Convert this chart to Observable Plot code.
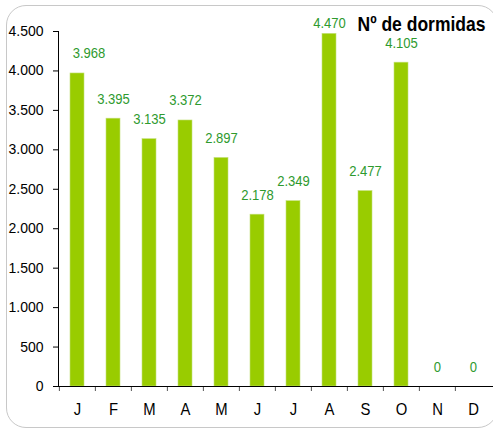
<!DOCTYPE html>
<html>
<head>
<meta charset="utf-8">
<script src="https://cdn.jsdelivr.net/npm/d3@7"></script>
<script src="https://cdn.jsdelivr.net/npm/@observablehq/plot@0.6"></script>
<style>
  html, body { margin: 0; padding: 0; background: #fff; overflow: hidden; }
  #wrap { position: relative; width: 493px; height: 430px; overflow: hidden; }
  #border { position: absolute; left: 6px; top: 5px; width: 492px; height: 423px;
            border: 1px solid #c8c8c8; border-radius: 20px; box-sizing: border-box; pointer-events: none; }
  svg { font-family: "Liberation Sans", Arial, sans-serif; }
</style>
</head>
<body>
<div id="wrap"><div id="border"></div></div>
<script>
const months = ["J","F","M","A","M ","J ","J  ","A ","S","O","N","D"];
const monthLabels = ["J","F","M","A","M","J","J","A","S","O","N","D"];
const values = [3968, 3395, 3135, 3372, 2897, 2178, 2349, 4470, 2477, 4105, 0, 0];
const yTicks = [0, 500, 1000, 1500, 2000, 2500, 3000, 3500, 4000, 4500];
const title = "Nº de dormidas";

const data = months.map((m, i) => ({month: m, label: monthLabels[i], value: values[i]}));
const fmt = d3.formatLocale({decimal: ",", thousands: ".", grouping: [3]}).format(",d");

const W = 493, H = 430, mL = 58, mR = 0;
const bw = (W - mL - mR) / months.length;

const green = "#2e9a2e";

const chart = Plot.plot({
  width: W,
  height: H,
  marginLeft: mL,
  marginRight: mR,
  marginTop: 31,
  marginBottom: 44,
  style: {fontFamily: "Liberation Sans, Arial, sans-serif", fontSize: "14px", color: "#000", background: "transparent"},
  x: {domain: months, paddingInner: 0.6, paddingOuter: 0.3, label: null, axis: null},
  y: {domain: [0, 4500], label: null, axis: null},
  marks: [
    Plot.barY(data, {x: "month", y: "value", fill: "#99cc00", stroke: "#c4e07a", strokeWidth: 0.6}),
    // y axis
    Plot.axisY({ticks: yTicks, tickFormat: fmt, tickSize: 5, tickPadding: 10, stroke: "#000", fontSize: 14, label: null}),
    Plot.frame({anchor: "left", stroke: "#000"}),
    // x axis: tick marks at band boundaries
    Plot.axisX({tickSize: 5, tickFormat: () => "", dx: -bw / 2, stroke: "#555", label: null}),
    Plot.axisX({tickSize: 0, tickPadding: 17, tickFormat: (d, i) => monthLabels[i], fontSize: 16.5, label: null}),
    Plot.ruleY([0], {stroke: "#000", strokeWidth: 1.2}),
    // value labels
    Plot.text(data.filter(d => d.value < 4400 && d.month !== "J"), {x: "month", y: "value", text: d => fmt(d.value), lineAnchor: "bottom", dy: -15, fill: green, fontSize: 15}),
    Plot.text(data.filter(d => d.month === "J"), {x: "month", y: "value", text: d => fmt(d.value), lineAnchor: "bottom", dy: -15, dx: 11.5, fill: green, fontSize: 15}),
    Plot.text(data.filter(d => d.value >= 4400), {x: "month", y: "value", text: d => fmt(d.value), lineAnchor: "bottom", dy: -6, fill: green, fontSize: 15}),
    // title
    Plot.text([title], {frameAnchor: "top-right", dx: -8, dy: -0.5, lineAnchor: "bottom", fontWeight: "bold", fontSize: 20.5, fill: "#000"})
  ]
});
document.getElementById("wrap").prepend(chart);

// horizontally condense some texts to match the reference's narrow lettering
function condense(selector, ratio) {
  chart.querySelectorAll(selector).forEach(t => {
    const len = t.getComputedTextLength();
    if (len > 0) {
      t.setAttribute("textLength", (len * ratio).toFixed(2));
      t.setAttribute("lengthAdjust", "spacingAndGlyphs");
    }
  });
}
const textGroups = chart.querySelectorAll('g[aria-label="text"]');
textGroups.forEach((g, i) => {
  const last = i === textGroups.length - 1;
  g.querySelectorAll("text").forEach(t => {
    const len = t.getComputedTextLength();
    const target = last ? 128 : len * 0.87;
    t.setAttribute("textLength", target.toFixed(2));
    t.setAttribute("lengthAdjust", "spacingAndGlyphs");
  });
});
condense('g[aria-label="x-axis tick label"] text', 0.9);
</script>
</body>
</html>
